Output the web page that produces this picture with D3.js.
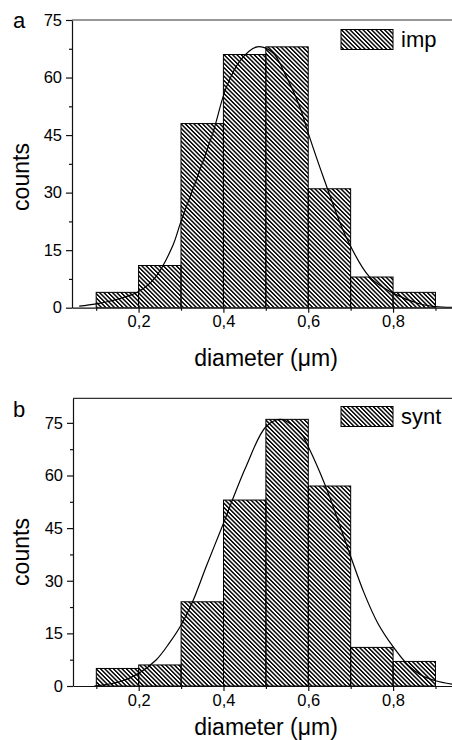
<!DOCTYPE html>
<html>
<head>
<meta charset="utf-8">
<script src="https://cdn.jsdelivr.net/npm/d3@7"></script>
<style>
  body { margin: 0; background: #fff; }
  svg { display: block; font-family: "Liberation Sans", Arial, sans-serif; }
</style>
</head>
<body>
<div id="chart"></div>
<script>
// histogram bins (diameter, um)
const binStarts = [0.1, 0.2, 0.3, 0.4, 0.5, 0.6, 0.7, 0.8];
const binWidth = 0.1;
const countsImp = [4, 11, 48, 66, 68, 31, 8, 4];
const countsSynt = [5, 6, 24, 53, 76, 57, 11, 7];

// fitted curves
const fitImpX = [0.06, 0.10, 0.15, 0.20, 0.24, 0.28, 0.30, 0.336, 0.375, 0.407, 0.44, 0.48, 0.517, 0.548, 0.58, 0.60, 0.638, 0.689, 0.744, 0.80, 0.86, 0.90, 0.94];
const fitImpY = [0.4, 1.0, 2.2, 4.2, 8.0, 16, 22.5, 33.3, 45.5, 57.5, 64.5, 68, 66.4, 60.3, 52.4, 45.5, 33.3, 18.5, 8.1, 3.8, 1.1, 0.3, 0.1];
const fitSyntX = [0.095, 0.155, 0.20, 0.241, 0.272, 0.30, 0.327, 0.359, 0.40, 0.421, 0.453, 0.50, 0.535, 0.583, 0.60, 0.638, 0.67, 0.70, 0.732, 0.764, 0.80, 0.835, 0.866, 0.90, 0.94];
const fitSyntY = [0, 1.2, 3.6, 7.4, 12.2, 17.4, 24.0, 34.0, 46.4, 53.0, 62.5, 73.9, 76, 72.0, 68.2, 57.8, 47.3, 36.9, 26.4, 17.9, 11.2, 6.0, 3.1, 1.5, 0.5];

const xTicks = [0.2, 0.4, 0.6, 0.8];
const xTickLabels = ["0,2", "0,4", "0,6", "0,8"];
const xMinorTicks = [0.1, 0.3, 0.5, 0.7, 0.9];
const yTicks = [0, 15, 30, 45, 60, 75];
const yMinorTicks = [7.5, 22.5, 37.5, 52.5, 67.5];

const width = 452;
const height = 740;

const svg = d3.select("#chart").append("svg")
    .attr("width", width)
    .attr("height", height);

// diagonal hatch "\\\"
const defs = svg.append("defs");
defs.append("pattern")
    .attr("id", "hatch")
    .attr("patternUnits", "userSpaceOnUse")
    .attr("width", 3.05)
    .attr("height", 3.05)
    .attr("patternTransform", "rotate(-45)")
  .append("rect")
    .attr("x", 0).attr("y", 0)
    .attr("width", 1.45).attr("height", 3.05)
    .attr("fill", "#000");

const panels = [
    {id: "a", label: "a", counts: countsImp, fx: fitImpX, fy: fitImpY, legend: "imp",
     left: 72, right: 452, top: 20, bottom: 307.7, yMax: 75, xMin: 0.043, xMax: 0.939,
     labelY: 28, countsY: 177, titleY: 366, legendY: 29.5},
    {id: "b", label: "b", counts: countsSynt, fx: fitSyntX, fy: fitSyntY, legend: "synt",
     left: 73, right: 452, top: 398.3, bottom: 686, yMax: 82, xMin: 0.045, xMax: 0.939,
     labelY: 416.5, countsY: 552, titleY: 735, legendY: 406.5}
];

panels.forEach(p => {
    const x = d3.scaleLinear().domain([p.xMin, p.xMax]).range([p.left, p.right]);
    const y = d3.scaleLinear().domain([0, p.yMax]).range([p.bottom, p.top]);
    const g = svg.append("g");

    defs.append("clipPath").attr("id", "clip-" + p.id)
      .append("rect")
        .attr("x", p.left).attr("y", p.top)
        .attr("width", p.right - p.left).attr("height", p.bottom - p.top);

    const plot = g.append("g").attr("clip-path", `url(#clip-${p.id})`);

    plot.selectAll("rect.bar")
        .data(binStarts.map((b, i) => ({x0: b, x1: b + binWidth, n: p.counts[i]})))
        .join("rect")
        .attr("class", "bar")
        .attr("x", d => x(d.x0))
        .attr("y", d => y(d.n))
        .attr("width", d => x(d.x1) - x(d.x0))
        .attr("height", d => y(0) - y(d.n))
        .attr("fill", "url(#hatch)")
        .attr("stroke", "#000")
        .attr("stroke-width", 1);

    const line = d3.line()
        .x(d => x(d[0]))
        .y(d => y(d[1]))
        .curve(d3.curveCatmullRom);

    plot.append("path")
        .datum(d3.zip(p.fx, p.fy))
        .attr("d", line)
        .attr("fill", "none")
        .attr("stroke", "#000")
        .attr("stroke-width", 1.2);

    // axes
    g.append("g")
        .attr("transform", `translate(${p.left},0)`)
        .call(d3.axisLeft(y).tickValues(yTicks).tickSize(6).tickSizeOuter(0).tickPadding(4));
    g.append("g")
        .attr("transform", `translate(${p.left},0)`)
        .call(d3.axisLeft(y).tickValues(yMinorTicks).tickSize(3).tickFormat(""))
        .call(a => a.select(".domain").remove());

    g.append("g")
        .attr("transform", `translate(0,${p.bottom})`)
        .call(d3.axisBottom(x).tickValues(xTicks).tickSize(5).tickSizeOuter(0).tickPadding(3)
            .tickFormat((d, i) => xTickLabels[i]));
    g.append("g")
        .attr("transform", `translate(0,${p.bottom})`)
        .call(d3.axisBottom(x).tickValues(xMinorTicks).tickSize(3).tickFormat(""))
        .call(a => a.select(".domain").remove());

    g.selectAll(".tick text")
        .attr("font-size", 16.5)
        .attr("font-family", "'Liberation Sans', Arial, sans-serif")
        .attr("fill", "#000");
    g.selectAll(".domain, .tick line")
        .attr("stroke", "#111")
        .attr("stroke-width", 1.2);

    // top frame
    g.append("line")
        .attr("x1", p.left).attr("x2", p.right)
        .attr("y1", p.top).attr("y2", p.top)
        .attr("stroke", "#333")
        .attr("stroke-width", 1.2);

    // legend
    g.append("rect")
        .attr("x", 341).attr("y", p.legendY)
        .attr("width", 52).attr("height", 20)
        .attr("fill", "url(#hatch)")
        .attr("stroke", "#000");
    g.append("text")
        .attr("x", 401).attr("y", p.legendY + 17)
        .attr("font-size", 22)
        .text(p.legend);

    // titles
    g.append("text")
        .attr("x", 13).attr("y", p.labelY)
        .attr("font-size", 22)
        .text(p.label);
    g.append("text")
        .attr("transform", `translate(29,${p.countsY}) rotate(-90)`)
        .attr("text-anchor", "middle")
        .attr("font-size", 23)
        .text("counts");
    g.append("text")
        .attr("x", 266).attr("y", p.titleY)
        .attr("text-anchor", "middle")
        .attr("font-size", 23)
        .text("diameter (\u03bcm)");
});
</script>
</body>
</html>
